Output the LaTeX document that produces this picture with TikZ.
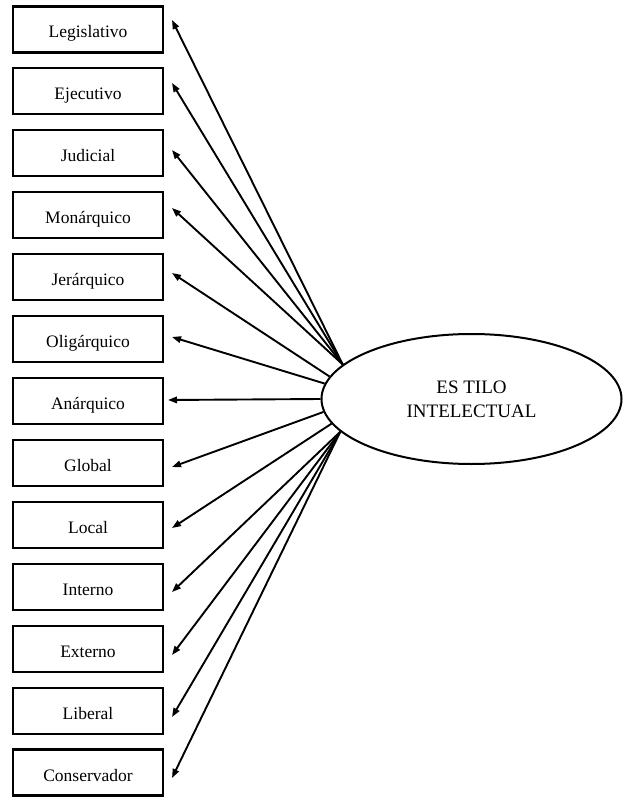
\documentclass[tikz,border=0pt]{standalone}
\usepackage{fontspec}
\setmainfont{Liberation Serif}
\usetikzlibrary{shapes.geometric,arrows.meta}
\begin{document}
\begin{tikzpicture}[x=1pt,y=-1pt,
  boxnode/.style={draw,line width=2.2pt,minimum width=150pt,minimum height=46pt,inner sep=0pt,
    font=\fontsize{17.5}{20}\selectfont,text height=20pt,text depth=3pt},
  latent/.style={draw,ellipse,line width=2pt,minimum width=300pt,minimum height=130pt,inner sep=0pt,
    align=center,font=\fontsize{19}{24}\selectfont},
  link/.style={line width=1.9pt,-{Triangle[length=9pt,width=6.5pt]}}]
\useasboundingbox (0,0) rectangle (624,799);
\node[boxnode] (b1) at (88,29.5) {Legislativo};
\node[boxnode] (b2) at (88,91.4) {Ejecutivo};
\node[boxnode] (b3) at (88,153.3) {Judicial};
\node[boxnode] (b4) at (88,215.3) {Monárquico};
\node[boxnode] (b5) at (88,277.2) {Jerárquico};
\node[boxnode] (b6) at (88,339.1) {Oligárquico};
\node[boxnode] (b7) at (88,401) {Anárquico};
\node[boxnode] (b8) at (88,462.9) {Global};
\node[boxnode] (b9) at (88,524.9) {Local};
\node[boxnode] (b10) at (88,586.8) {Interno};
\node[boxnode] (b11) at (88,648.7) {Externo};
\node[boxnode] (b12) at (88,710.6) {Liberal};
\node[boxnode] (b13) at (88,772.5) {Conservador};
\node[latent] (E) at (471.5,399) {ES TILO\\INTELECTUAL};
\coordinate (t1) at (172,20);
\coordinate (t2) at (172,83);
\coordinate (t3) at (172,150);
\coordinate (t4) at (172,208);
\coordinate (t5) at (172,273);
\coordinate (t6) at (172,337);
\coordinate (t7) at (168,400);
\coordinate (t8) at (172,467);
\coordinate (t9) at (172,528);
\coordinate (t10) at (172,592);
\coordinate (t11) at (172,655);
\coordinate (t12) at (172,717);
\coordinate (t13) at (172,778);
\draw[link] (E.165) -- (t1);
\draw[link] (E.165) -- (t2);
\draw[link] (E.165) -- (t3);
\draw[link] (E.165) -- (t4);
\draw[link] (E.171.3) -- (t5);
\draw[link] (E.174.6) -- (t6);
\draw[link] (E.west) -- (t7);
\draw[link] (E.185.6) -- (t8);
\draw[link] (E.190.3) -- (t9);
\draw[link] (E.194.5) -- (t10);
\draw[link] (E.194.5) -- (t11);
\draw[link] (E.194.5) -- (t12);
\draw[link] (E.194.5) -- (t13);
\end{tikzpicture}
\end{document}
